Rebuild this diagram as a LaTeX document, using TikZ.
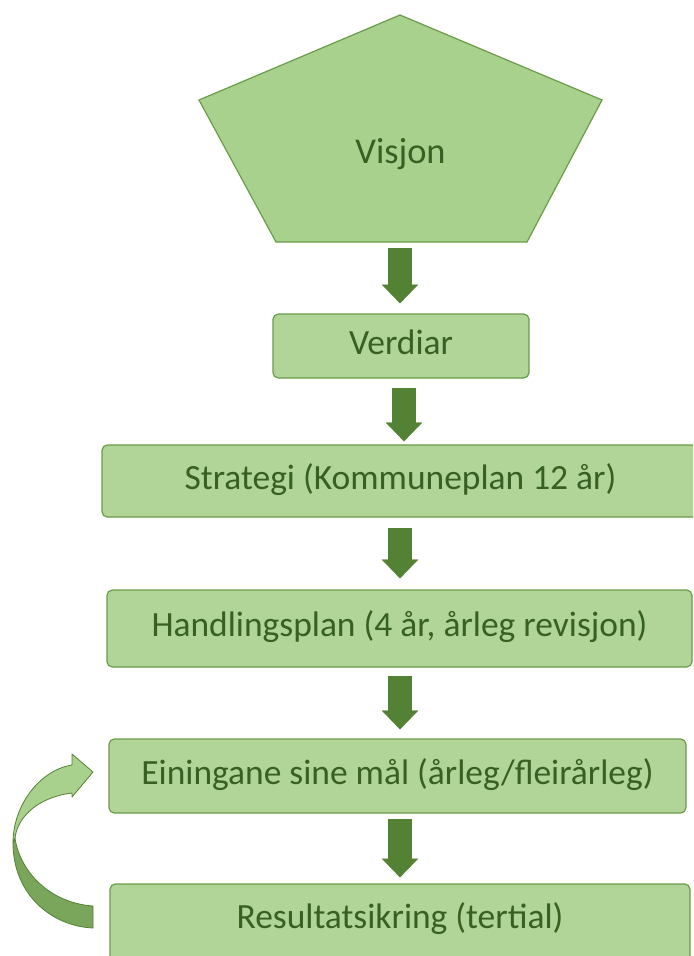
\documentclass[tikz,border=0pt]{standalone}
\usepackage{fontspec}
\setmainfont{Carlito}
\usetikzlibrary{arrows.meta,calc}
\definecolor{boxfill}{RGB}{177,213,153}
\definecolor{pentfill}{RGB}{169,209,142}
\definecolor{edgec}{RGB}{106,156,72}
\definecolor{txtc}{RGB}{56,96,36}
\definecolor{arrowc}{RGB}{84,130,53}
\definecolor{lowband}{RGB}{122,166,92}
\begin{document}
\begin{tikzpicture}[x=0.75pt,y=-0.75pt,
  stepbox/.style={draw=edgec, line width=0.9pt, fill=boxfill, rounded corners=4pt,
    text=txtc, font=\fontsize{26.6}{32}\selectfont, inner sep=0pt,
    text height=17pt, text depth=5pt},
  blockarrow/.style={draw=arrowc, line width=18pt,
    -{Triangle[width=27pt 0 0,length=14pt 0 0,line width=0.01pt 0 0,fill=arrowc]}},
  curvedge/.style={draw=arrowc, line width=0.6pt, line join=round}]
\useasboundingbox (0,0) rectangle (693,956);
\clip (0,0) rectangle (693,956);

% Vision pentagon
\draw[draw=edgec, line width=0.9pt, fill=pentfill]
  (400,15) -- (602,100) -- (527,242) -- (276,242) -- (199,100) -- cycle;
\coordinate (vbot) at (400,242);
\node[text=txtc, font=\fontsize{27.3}{33}\selectfont, anchor=base] (visjon) at (400.5,163) {Visjon};

% boxes
\node[stepbox, minimum width=192pt, minimum height=48pt] (verd) at (401,346) {Verdiar};
\node[stepbox, minimum width=447.75pt, minimum height=54pt] (strat) at (400.5,481) {Strategi (Kommuneplan 12 år)};
\node[stepbox, minimum width=438.75pt, minimum height=57.75pt] (hand) at (399.5,628.5) {Handlingsplan (4 år, årleg revisjon)};
\node[stepbox, minimum width=432.75pt, minimum height=55.5pt] (eining) at (397.5,776) {Einingane sine mål (årleg/fleirårleg)};
\node[stepbox, minimum width=435pt, minimum height=60pt, text height=14pt, text depth=8pt] (res) at (400,924) {Resultatsikring (tertial)};

% block arrows
\draw[blockarrow] ($(vbot)+(0,6)$) -- ($(verd.north)+(-1,-10)$);
\draw[blockarrow] ($(verd.south)+(3,9)$) -- ($(strat.north)+(3.5,-3)$);
\draw[blockarrow] ($(strat.south)+(-0.5,10)$) -- ($(hand.north)+(0.5,-11)$);
\draw[blockarrow] ($(hand.south)+(0.5,8)$) -- ($(eining.north)+(2.5,-9)$);
\draw[blockarrow] ($(eining.south)+(2.5,5)$) -- ($(res.north)+(0,-6)$);

% curved feedback arrow
\fill[lowband, curvedge]
  (93,906) -- (93,928) .. controls (50,926) and (13,893) .. (13,843)
  -- (15,838) .. controls (20,872) and (50,903) .. (93,906) -- cycle;
\fill[pentfill, curvedge]
  (13,843) .. controls (13,805) and (40,770) .. (72,765)
  -- (72,754) -- (93,772) -- (72,797) -- (72,793)
  .. controls (40,797) and (18,815) .. (15,838) -- cycle;
\end{tikzpicture}
\end{document}
